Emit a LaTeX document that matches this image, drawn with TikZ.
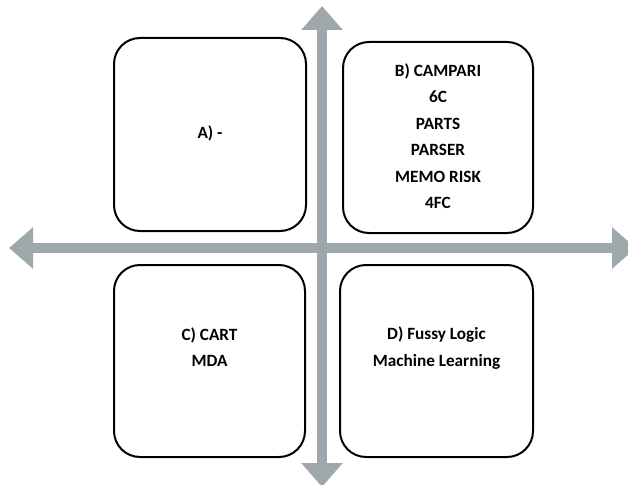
\documentclass[tikz,border=0pt]{standalone}
\usepackage{fontspec}
\setmainfont{Carlito}
\usetikzlibrary{arrows.meta}
\definecolor{axisgray}{RGB}{158,167,171}
\begin{document}
\begin{tikzpicture}[x=1pt,y=-1pt,
  box/.style={draw=black,line width=2pt,rounded corners=26pt,inner sep=0pt},
  lbl/.style={align=center,font=\fontsize{17.2}{26.5}\selectfont\bfseries,inner sep=0pt},
  axis/.style={draw=axisgray,line width=10pt,
    {Triangle[width=40pt,length=24pt]}-{Triangle[width=40pt,length=24pt]}}]
\useasboundingbox (0,0) rectangle (628,484);
% axes
\coordinate (left) at (9,248);
\coordinate (right) at (636,248);
\coordinate (top) at (322,6);
\coordinate (bottom) at (322,487);
\draw[axis] (left) -- (right);
\draw[axis] (top) -- (bottom);
% boxes
\node[box,minimum width=192pt,minimum height=193pt] (boxA) at (210,134.5) {};
\node[box,minimum width=190pt,minimum height=191pt] (boxB) at (438,137.5) {};
\node[box,minimum width=191pt,minimum height=192pt] (boxC) at (209.5,361) {};
\node[box,minimum width=193pt,minimum height=192pt] (boxD) at (436.5,361) {};
% labels
\node[lbl] (tA) at (210,133) {A) -};
\node[lbl] (tB) at (438,136) {B) CAMPARI\\6C\\PARTS\\PARSER\\MEMO RISK\\4FC};
\node[lbl] (tC) at (209.5,347) {C) CART\\MDA};
\node[lbl] (tD) at (436.5,348) {D) Fussy Logic\\Machine Learning};
\end{tikzpicture}
\end{document}
